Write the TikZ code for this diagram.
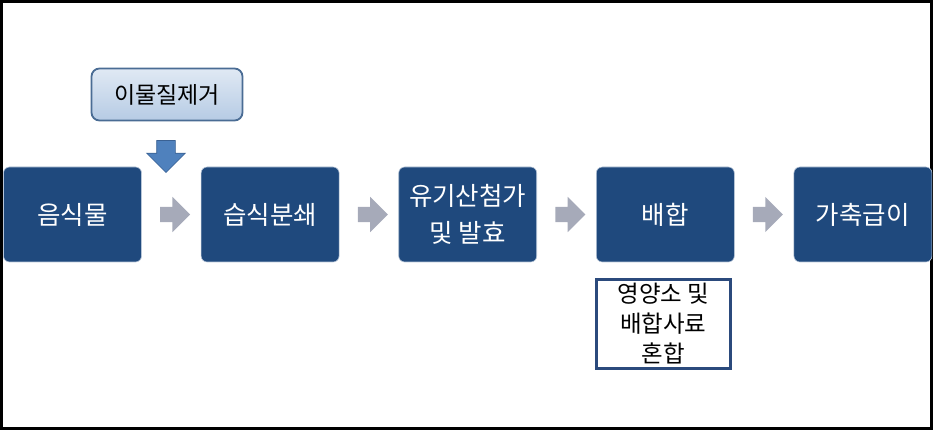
\documentclass[tikz,border=0pt]{standalone}
\usepackage{fontspec}
\setmainfont{Noto Sans CJK KR}
\usepackage{tikz}
\usetikzlibrary{positioning, shapes.arrows, calc}
\definecolor{stepblue}{HTML}{1F497D}
\definecolor{stepedge}{HTML}{B8C6D8}
\definecolor{sorttop}{HTML}{E0E9F4}
\definecolor{sortbottom}{HTML}{B6CBE4}
\definecolor{sortedge}{HTML}{4A6C94}
\definecolor{arrowgray}{HTML}{A6AAB9}
\definecolor{dropfill}{HTML}{4F81BD}
\definecolor{dropedge}{HTML}{3A6193}
\definecolor{noteedge}{HTML}{2B4A7C}

\begin{document}
\begin{tikzpicture}[
	  x=1pt, y=1pt,
	  node distance=59pt,
	  stepbox/.style={
	    rounded corners=6pt,
	    fill=stepblue,
	    draw=stepedge,
	    line width=0.6pt,
	    text=white,
	    align=center,
	    inner sep=0pt,
	    minimum width=138pt,
	    minimum height=95pt,
	    font=\fontsize{25.5}{37}\selectfont
	  },
	  sortbox/.style={
	    rounded corners=8pt,
	    top color=sorttop,
	    bottom color=sortbottom,
	    draw=sortedge,
	    line width=1.8pt,
	    inner sep=0pt,
	    minimum width=151pt,
	    minimum height=52pt,
	    font=\fontsize{23}{28}\selectfont
	  },
	  notebox/.style={
	    draw=noteedge,
	    fill=white,
	    line width=2.4pt,
	    align=center,
	    inner sep=0pt,
	    minimum width=134pt,
	    minimum height=89pt,
	    font=\fontsize{23.5}{30}\selectfont
	  },
	  grayarrow/.style={
	    single arrow,
	    fill=arrowgray,
	    draw=none,
	    inner xsep=0pt,
	    inner ysep=7.5pt,
	    single arrow head extend=10pt,
	    minimum height=30pt
	  },
	  droparrow/.style={
	    single arrow,
	    rotate=-90,
	    fill=dropfill,
	    draw=dropedge,
	    line width=0.6pt,
	    inner xsep=0pt,
	    inner ysep=9pt,
	    single arrow head extend=10pt,
	    minimum height=32pt
	  }
	]

	\useasboundingbox (0,0) rectangle (933,430);
	\draw[line width=3pt] (1.5,1.5) rectangle (931.5,428.5);

	% --- main row ---
	\node[stepbox] (food) at (72.5,215.5) {음식물};
	\node[stepbox, right=of food] (grind) {습식분쇄};
	\node[stepbox, right=of grind] (ferment) {유기산첨가\\및 발효};
	\node[stepbox, right=of ferment] (mix) {배합};
	\node[stepbox, right=of mix] (feed) {가축급이};

	% --- extra steps ---
	\node[sortbox] (sort) at (167,335.5) {이물질제거};
	\node[droparrow] (drop) at ($(sort.south)+(-1,-30.5)$) {};
	\node[notebox, below=16pt of mix, xshift=-2pt] (blend) {영양소 및\\배합사료\\혼합};

	% --- flows ---
	\node[grayarrow] (a1) at ($(food.east)!0.5!(grind.west)$) {};
	\node[grayarrow] (a2) at ($(grind.east)!0.5!(ferment.west)$) {};
	\node[grayarrow] (a3) at ($(ferment.east)!0.5!(mix.west)$) {};
	\node[grayarrow] (a4) at ($(mix.east)!0.5!(feed.west)$) {};

	\end{tikzpicture}
\end{document}
